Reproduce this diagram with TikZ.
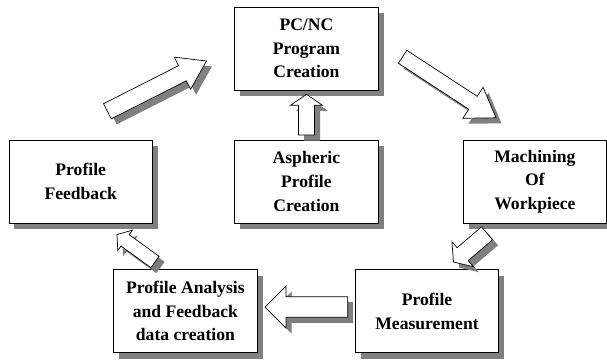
\documentclass[tikz,border=0pt]{standalone}
\usepackage{fontspec}
\setmainfont{Liberation Serif}
\usetikzlibrary{calc,shadows}
\definecolor{shadowgray}{RGB}{128,128,128}

\tikzset{
  stagebox/.style={draw=black, line width=0.9pt, fill=white,
    minimum width=143.5pt, minimum height=83pt, inner sep=0pt, align=center,
    font=\fontsize{17.6}{23.6}\selectfont\bfseries,
    drop shadow={shadow xshift=5.5pt, shadow yshift=-6pt, opacity=1, fill=shadowgray}},
  arrowbody/.style={draw=black, line width=0.7pt, fill=white, line join=miter},
  arrowshade/.style={fill=shadowgray, transform canvas={shift={(5.5pt,-5.5pt)}}},
}

% hollow block arrow with a drop shadow:
% #1 tail centre, #2 tip, #3 half shaft width, #4 half head width, #5 head length
\newcommand\blockarrow[5]{%
  \coordinate (ba-h) at ($(#2)!#5!(#1)$);
  \def\bapath{($(#1)!#3!90:(#2)$) -- ($(ba-h)!#3!90:(#2)$) -- ($(ba-h)!#4!90:(#2)$)
    -- (#2) -- ($(ba-h)!#4!-90:(#2)$) -- ($(ba-h)!#3!-90:(#2)$) -- ($(#1)!#3!-90:(#2)$) -- cycle}%
  \fill[arrowshade] \bapath;
  \draw[arrowbody] \bapath;
}

\begin{document}
\begin{tikzpicture}[x=1pt, y=-1pt]
  \useasboundingbox[fill=white] (0,0) rectangle (607,360);

  % process stages
  \node[stagebox] (pc)   at (306.4, 48.5)  {PC/NC\\Program\\Creation};
  \node[stagebox] (asp)  at (306.4, 181.5) {Aspheric\\Profile\\Creation};
  \node[stagebox] (fb)   at (80.7, 181.5)  {Profile\\Feedback};
  \node[stagebox] (mach) at (534.9, 181.5) {Machining\\Of\\Workpiece};
  \node[stagebox] (ana)  at (185.4, 311.2) {Profile Analysis\\and Feedback\\data creation};
  \node[stagebox] (meas) at (427.0, 311.2) {Profile\\Measurement};

  % arrow end points
  \coordinate (fb-out)   at (107.4, 111.3);
  \coordinate (pc-in1)   at (206.5, 61.0);
  \coordinate (pc-out)   at (402.6, 56.8);
  \coordinate (mach-in)  at (496.0, 117.8);
  \coordinate (asp-out)  at (306.5, 135.0);
  \coordinate (pc-in2)   at (306.5, 94.3);
  \coordinate (ana-out)  at (155.0, 262.0);
  \coordinate (fb-in)    at (117.0, 234.5);
  \coordinate (mach-out) at (487.0, 233.3);
  \coordinate (meas-in)  at (453.5, 262.0);
  \coordinate (meas-out) at (347.7, 307.0);
  \coordinate (ana-in)   at (265.0, 307.0);

  % flow between the stages
  \blockarrow{fb-out}{pc-in1}{8.5pt}{18pt}{27pt}
  \blockarrow{pc-out}{mach-in}{7.7pt}{18.5pt}{27.5pt}
  \blockarrow{asp-out}{pc-in2}{8pt}{16pt}{11pt}
  \blockarrow{ana-out}{fb-in}{7pt}{12.5pt}{10pt}
  \blockarrow{mach-out}{meas-in}{8.5pt}{16.5pt}{12pt}
  \blockarrow{meas-out}{ana-in}{10.3pt}{21pt}{21pt}
\end{tikzpicture}
\end{document}
